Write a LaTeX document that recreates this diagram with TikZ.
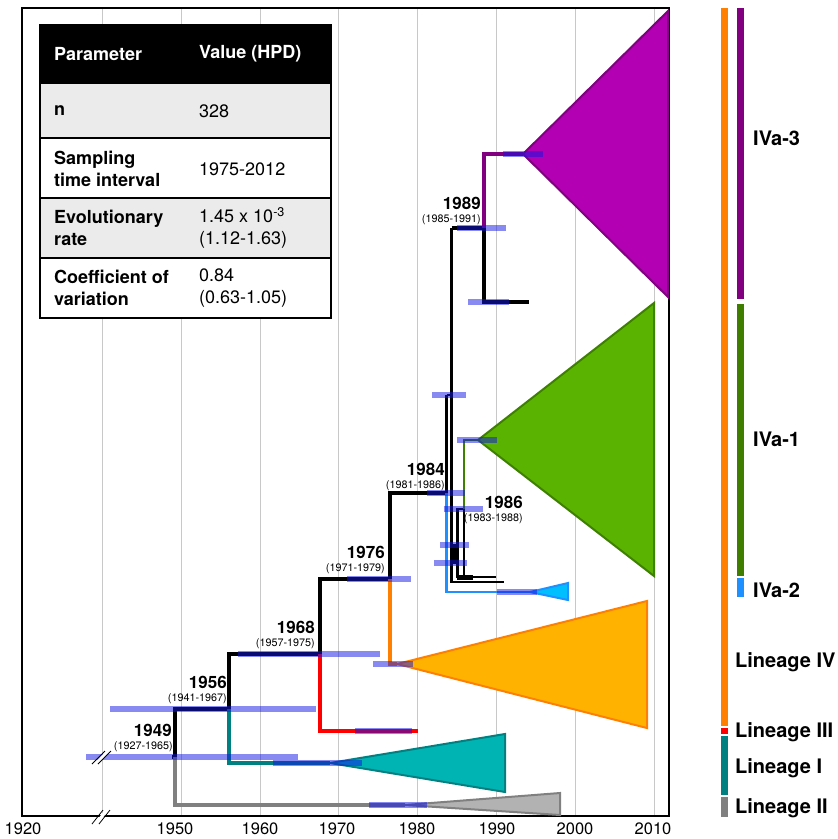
\documentclass[tikz,border=0pt]{standalone}
\usepackage{fontspec}
\setmainfont{TeX Gyre Heros}
\definecolor{hpdc}{RGB}{20,20,230}
\definecolor{rowg}{RGB}{235,235,235}
\definecolor{gridc}{RGB}{200,200,200}
\definecolor{orE}{RGB}{255,128,0}
\definecolor{orF}{RGB}{255,179,0}
\definecolor{puE}{RGB}{128,0,128}
\definecolor{puF}{RGB}{178,0,178}
\definecolor{grE}{RGB}{62,128,0}
\definecolor{grF}{RGB}{90,179,0}
\definecolor{grBar}{RGB}{62,125,0}
\definecolor{blE}{RGB}{30,144,255}
\definecolor{cyF}{RGB}{0,191,255}
\definecolor{teE}{RGB}{0,128,128}
\definecolor{teF}{RGB}{0,180,180}
\definecolor{gyE}{RGB}{128,128,128}
\definecolor{gyF}{RGB}{178,178,178}
\definecolor{rdE}{RGB}{255,0,0}
\begin{document}
\begin{tikzpicture}[x=1pt,y=-1pt,
  br/.style={line width=3.1pt},
  brs/.style={line width=2.3pt},
  hpd/.style={line width=5.5pt, draw=hpdc, draw opacity=0.5},
  tri/.style={line width=2pt, line join=miter},
  grid/.style={draw=gridc, line width=1.1pt},
  tb/.style={anchor=west, inner sep=0pt, align=left, font=\bfseries\fontsize{18}{22}\selectfont},
  tv/.style={anchor=west, inner sep=0pt, align=left, font=\fontsize{18}{22}\selectfont},
  yr/.style={anchor=east, inner sep=0pt, font=\bfseries\fontsize{17}{20}\selectfont},
  yi/.style={anchor=east, inner sep=0pt, font=\fontsize{10.8}{12}\selectfont},
  lin/.style={anchor=west, inner sep=0pt, font=\bfseries\fontsize{20}{22}\selectfont},
  ax/.style={inner sep=0pt, font=\fontsize{16.5}{18}\selectfont}]
\useasboundingbox (0,0) rectangle (838,839);
\fill[white] (0,0) rectangle (838,839);
% grid
\foreach \gx in {102.5,181.3,260.1,338.9,417.8,496.6,575.4,654.2}
  \draw[grid] (\gx,8) -- (\gx,816);
% table
\fill[black] (40,25) rectangle (331,83);
\fill[rowg] (40,83) rectangle (331,138);
\fill[white] (40,138) rectangle (331,198);
\fill[rowg] (40,198) rectangle (331,258);
\fill[white] (40,258) rectangle (331,318);
\draw[line width=2pt] (40,83) -- (331,83) (40,138) -- (331,138) (40,198) -- (331,198) (40,258) -- (331,258);
\draw[line width=2pt] (40,25) rectangle (331,318);
\node[tb, text=white] (h1) at (54,54) {Parameter};
\node[tb, text=white] (h2) at (199,54) {Value (HPD)};
\node[tb] (p1) at (54,111) {n};
\node[tv] (v1) at (199,111) {328};
\node[tb] (p2) at (54,169) {Sampling\\time interval};
\node[tv] (v2) at (199,169) {1975-2012};
\node[tb] (p3) at (54,228) {Evolutionary\\rate};
\node[tv] (v3) at (199,228) {1.45 x 10\textsuperscript{-3}\\(1.12-1.63)};
\node[tb] (p4) at (54,288) {Coefficient of\\variation};
\node[tv] (v4) at (199,288) {0.84\\(0.63-1.05)};
% frame
\draw[line width=2.4pt] (22,8) rectangle (669,816);
% tree nodes
\coordinate (r) at (175,757);
\coordinate (a) at (229,709);
\coordinate (b) at (320,654);
\coordinate (c) at (390,579);
\coordinate (d) at (446.5,493);
\coordinate (e) at (446.5,395);
\coordinate (e2) at (451.5,395);
\coordinate (f) at (451.5,228);
\coordinate (g) at (484,228);
\coordinate (gt) at (405,805);
\coordinate (tt) at (330,763);
\coordinate (rt) at (418,731);
\coordinate (ot) at (397,664);
\coordinate (ct) at (530,592);
\coordinate (pt) at (523,154);
\coordinate (bt) at (529,302);
\coordinate (nt) at (478,440);
\coordinate (k1) at (457.5,509);
\coordinate (k2) at (464,509);
\coordinate (m1) at (451.5,582);
\coordinate (m2) at (504,582);
\coordinate (q1) at (457.5,577);
\coordinate (q2) at (496,577);
% branches
\draw[br] (r) -- ++(-3,0);
\draw[br] (a) -| (r);
\draw[br, gyE] (r) |- (gt);
\draw[br] (b) -| (a);
\draw[br, teE] (a) |- (tt);
\draw[br] (c) -| (b);
\draw[br, rdE] (b) |- (rt);
\draw[br] (d) -| (c);
\draw[br, orE] (c) |- (ot);
\draw[brs, blE] (d) |- (ct);
\draw[brs] (e) -- (d);
\draw[brs] (e) -- (e2);
\draw[br] (f) -- (e2);
\draw[br] (f) -- (g);
\draw[br, puE] (g) |- (pt);
\draw[br] (g) |- (bt);
\draw[line width=4.5pt] (509,302) -- (bt);
\draw[brs] (e2) -- (m1) -- (m2);
\draw[brs] (q2) -- (q1) -- (k1) -- (k2) -- (k2 |- q1);
\draw[brs, grE] (k2) |- (nt);
\draw[brs] (451.5,545) -- (457.5,545);
\fill[black] (451,545) rectangle (458,564);
\fill[black] (457,575) rectangle (473,580);
% triangles
\filldraw[tri, draw=puE, fill=puF] (pt) -- (668,11) -- (668,297) -- cycle;
\filldraw[tri, draw=grE, fill=grF] (nt) -- (654,303) -- (654,576) -- cycle;
\filldraw[tri, draw=blE, fill=cyF] (ct) -- (568,583) -- (568,600) -- cycle;
\filldraw[tri, draw=orE, fill=orF] (ot) -- (647,601) -- (647,728) -- cycle;
\filldraw[tri, draw=teE, fill=teF] (tt) -- (505,734) -- (505,792) -- cycle;
\filldraw[tri, draw=gyE, fill=gyF] (gt) -- (560,793) -- (560,815) -- cycle;
% HPD bars
\draw[hpd] (86,757) -- (298,757);
\draw[hpd] (110,709) -- (316,709);
\draw[hpd] (238,654) -- (380,654);
\draw[hpd] (273,763) -- (362,763);
\draw[hpd] (355,731) -- (412,731);
\draw[hpd] (347,579) -- (411,579);
\draw[hpd] (373,664) -- (413,664);
\draw[hpd] (369,805) -- (427,805);
\draw[hpd] (427,493) -- (465,493);
\draw[hpd] (432,395) -- (466,395);
\draw[hpd] (457,440) -- (497,440);
\draw[hpd] (444,509) -- (483,509);
\draw[hpd] (440,545) -- (469,545);
\draw[hpd] (434,563) -- (467,563);
\draw[hpd] (497,592) -- (537,592);
\draw[hpd] (457,228) -- (506,228);
\draw[hpd] (503,154) -- (543,154);
\draw[hpd] (468,302) -- (509,302);
% break marks
\fill[white] (94,764) -- (106,751) -- (110,751) -- (98,764) -- cycle;
\draw[line width=0.8pt] (92,764) -- (105,751) (98,764) -- (111,751);
\fill[white] (94,824) -- (105,810) -- (109,810) -- (98,824) -- cycle;
\draw[line width=0.8pt] (92,824) -- (103,810) (99,824) -- (110,810);
% year labels
\node[yr] (y49) at (172,730) {1949};
\node[yi] (y49i) at (173,747) {(1927-1965)};
\node[yr] (y56) at (227,682) {1956};
\node[yi] (y56i) at (227,699) {(1941-1967)};
\node[yr] (y68) at (315,627) {1968};
\node[yi] (y68i) at (315,644) {(1957-1975)};
\node[yr] (y76) at (385,552) {1976};
\node[yi] (y76i) at (385,569) {(1971-1979)};
\node[yr] (y84) at (445,469) {1984};
\node[yi] (y84i) at (445,486) {(1981-1986)};
\node[yr] (y86) at (523,502) {1986};
\node[yi] (y86i) at (523,519) {(1983-1988)};
\node[yr] (y89) at (481,203) {1989};
\node[yi] (y89i) at (481,220) {(1985-1991)};
% axis labels
\node[ax] (x1) at (23,829) {1920};
\node[ax] (x2) at (175,829) {1950};
\node[ax] (x3) at (260,829) {1960};
\node[ax] (x4) at (337,829) {1970};
\node[ax] (x5) at (417,829) {1980};
\node[ax] (x6) at (497,829) {1990};
\node[ax] (x7) at (575,829) {2000};
\node[ax] (x8) at (653,829) {2010};
% lineage bars
\fill[orE] (720.5,8) rectangle (727.5,726);
\fill[puE] (737,8) rectangle (744,299);
\fill[grBar] (737,304) rectangle (744,576);
\fill[blE] (737,578) rectangle (744,597);
\fill[rdE] (720.5,728) rectangle (727.5,734);
\fill[teE] (720.5,736) rectangle (727.5,795);
\fill[gyE] (720.5,797) rectangle (727.5,817);
\node[lin] (l1) at (753,138) {IVa-3};
\node[lin] (l2) at (753,439) {IVa-1};
\node[lin] (l3) at (753,590) {IVa-2};
\node[lin] (l4) at (735,662) {Lineage IV};
\node[lin] (l5) at (735,732) {Lineage III};
\node[lin] (l6) at (735,768) {Lineage I};
\node[lin] (l7) at (735,808) {Lineage II};
\end{tikzpicture}
\end{document}
